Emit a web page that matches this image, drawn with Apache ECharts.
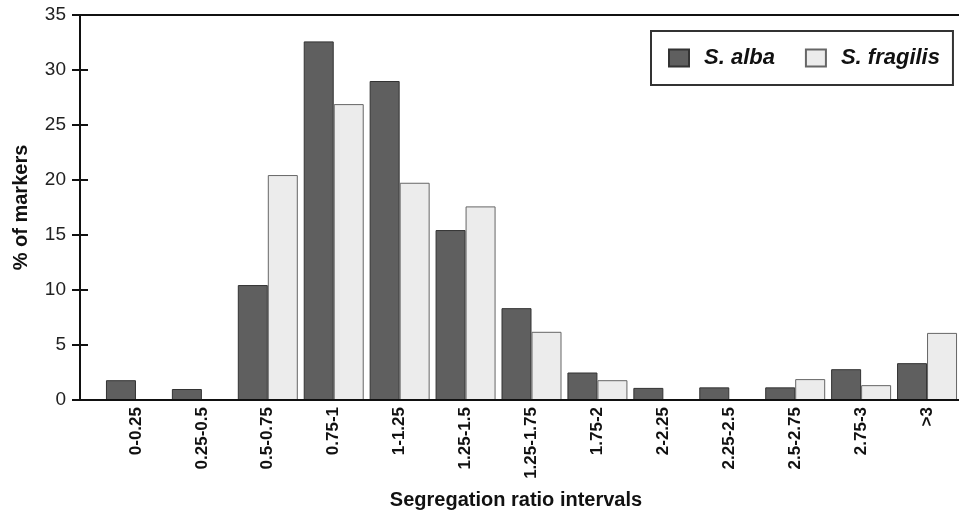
<!DOCTYPE html>
<html>
<head>
<meta charset="utf-8">
<script src="https://cdn.jsdelivr.net/npm/echarts@6/dist/echarts.min.js"></script>
<style>
html,body{margin:0;padding:0;background:#fff;}
#chart{width:959px;height:513px;}
</style>
</head>
<body>
<div id="chart"></div>
<script>
var categories = ['0-0.25','0.25-0.5','0.5-0.75','0.75-1','1-1.25','1.25-1.5','1.25-1.75','1.75-2','2-2.25','2.25-2.5','2.5-2.75','2.75-3','>3'];
var albaValues = [1.8, 1.0, 10.45, 32.6, 29.0, 15.45, 8.35, 2.5, 1.1, 1.15, 1.15, 2.8, 3.35];
var fragilisValues = [0, 0, 20.45, 26.9, 19.75, 17.6, 6.2, 1.8, 0, 0, 1.9, 1.35, 6.1];
var yTicks = [0, 5, 10, 15, 20, 25, 30, 35];

function dropZero(arr) { return arr.map(function (v) { return v === 0 ? '-' : v; }); }

var FONT = '"Liberation Sans", Arial, sans-serif';
var chart = echarts.init(document.getElementById('chart'), null, {renderer: 'canvas'});
chart.setOption({
  backgroundColor: '#ffffff',
  animation: false,
  textStyle: {fontFamily: FONT},
  grid: [
    {left: 103, right: -1, top: 15, bottom: 113, outerBoundsMode: 'none', containLabel: false},
    {left: 80, right: -3, top: 15, bottom: 113, outerBoundsMode: 'none', containLabel: false,
     show: true, borderColor: '#111', borderWidth: 2, backgroundColor: 'transparent', z: 3}
  ],
  legend: {
    left: 651, top: 31,
    padding: [14, 13, 14, 17],
    borderColor: '#333', borderWidth: 2,
    itemWidth: 20, itemHeight: 17, itemGap: 30,
    icon: 'rect',
    textStyle: {fontFamily: FONT, fontSize: 22, fontWeight: 'bold', fontStyle: 'italic', color: '#111', padding: [0, 0, 0, 10], lineHeight: 26}
  },
  xAxis: [
    {
      type: 'category', gridIndex: 0, data: categories,
      axisLine: {show: false}, axisTick: {show: false},
      axisLabel: {rotate: 90, margin: 7, fontSize: 17, fontWeight: 'bold', color: '#111', fontFamily: FONT, interval: 0},
      splitLine: {show: false}
    },
    {
      type: 'value', gridIndex: 1, min: 0, max: 1,
      axisLine: {show: false}, axisTick: {show: false}, axisLabel: {show: false}, splitLine: {show: false},
      name: 'Segregation ratio intervals', nameLocation: 'middle', nameGap: 90,
      nameTextStyle: {fontSize: 20, fontWeight: 'bold', color: '#111', fontFamily: FONT, padding: [0, 10, 0, 0]}
    }
  ],
  yAxis: [
    {
      type: 'value', gridIndex: 0, min: 0, max: 35, interval: 5, offset: 23,
      axisLine: {show: true, lineStyle: {color: '#111', width: 2}},
      axisTick: {show: true, inside: false, length: 8, lineStyle: {color: '#111', width: 2}},
      axisLabel: {margin: 14, fontSize: 19, color: '#222', fontFamily: FONT,
        formatter: function (v) { return yTicks.indexOf(v) >= 0 ? String(v) : ''; }},
      splitLine: {show: false},
      name: '% of markers', nameLocation: 'middle', nameGap: 49,
      nameTextStyle: {fontSize: 20, fontWeight: 'bold', color: '#111', fontFamily: FONT}
    },
    {
      type: 'value', gridIndex: 0, min: 0, max: 35, interval: 5, offset: 23, position: 'left',
      axisLine: {show: false},
      axisTick: {show: true, inside: true, length: 8, lineStyle: {color: '#111', width: 2}},
      axisLabel: {show: false}, splitLine: {show: false}
    },
    {
      type: 'value', gridIndex: 1, min: 0, max: 1, show: false
    }
  ],
  series: [
    {
      name: 'S. alba', type: 'bar', xAxisIndex: 0, yAxisIndex: 0,
      data: dropZero(albaValues), barWidth: 30, barGap: '0%',
      itemStyle: {color: '#5f5f5f', borderColor: '#333', borderWidth: 1}
    },
    {
      name: 'S. fragilis', type: 'bar', xAxisIndex: 0, yAxisIndex: 0,
      data: dropZero(fragilisValues), barWidth: 30, barGap: '0%',
      itemStyle: {color: '#ececec', borderColor: '#666', borderWidth: 1}
    }
  ]
});
</script>
</body>
</html>
